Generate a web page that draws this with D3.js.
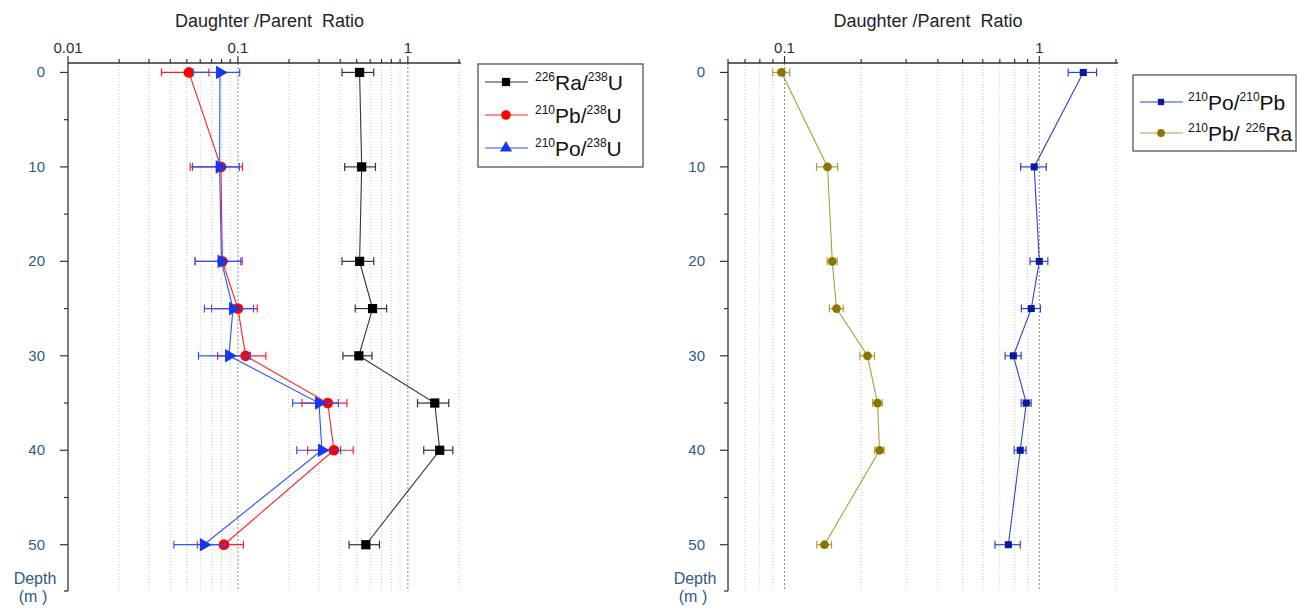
<!DOCTYPE html>
<html>
<head>
<meta charset="utf-8">
<script src="https://cdn.jsdelivr.net/npm/d3@7"></script>
<style>
  body { margin: 0; background: #fff; }
  svg { font-family: "Liberation Sans", Arial, sans-serif; }
</style>
</head>
<body>
<svg id="chart" width="1298" height="609"></svg>
<script>
// depths (m)
const depths = [0, 10, 20, 25, 30, 35, 40, 50]
const depthTicks = [0, 10, 20, 30, 40, 50]
const depthMinor = [5, 15, 25, 35, 45]

// left panel: ratio to 238U
const raU    = [0.52, 0.535, 0.52, 0.62, 0.515, 1.44, 1.54, 0.566]
const raUErr = [0.11, 0.11, 0.11, 0.13, 0.1, 0.3, 0.3, 0.115]
const pbU    = [0.0515, 0.0794, 0.081, 0.1, 0.111, 0.338, 0.367, 0.0827]
const pbUErr = [0.016, 0.027, 0.025, 0.03, 0.035, 0.1, 0.11, 0.025]
const poU    = [0.0784, 0.078, 0.08, 0.0935, 0.0886, 0.30, 0.312, 0.063]
const poUErr = [0.024, 0.024, 0.024, 0.03, 0.03, 0.09, 0.09, 0.021]

// right panel
const poPb    = [1.488, 0.955, 1.0, 0.93, 0.791, 0.889, 0.842, 0.756]
const poPbErr = [0.19, 0.11, 0.08, 0.08, 0.057, 0.04, 0.045, 0.086]
const pbRa    = [0.0973, 0.1475, 0.154, 0.16, 0.2116, 0.2317, 0.236, 0.1435]
const pbRaErr = [0.0075, 0.014, 0.007, 0.01, 0.014, 0.01, 0.01, 0.0095]

const leftTickLabels = [0.01, 0.1, 1]
const rightTickLabels = [0.1, 1]

const svg = d3.select('#chart')
const yTop = 63, yBot = 591
const y = d3.scaleLinear().domain([-1, 54.9]).range([yTop, yBot])

const labelColor = '#2f5b85'
const tickColor = '#1c2c4c'

// minor log positions inside a domain
const logTicks = (lo, hi) => {
  let out = []
  for (let e = -3; e <= 1; e++) {
    for (let m = 1; m <= 9; m++) {
      const v = m * Math.pow(10, e)
      if (v >= lo * 0.999 && v <= hi * 1.001) out.push(v)
    }
  }
  return out
}

const drawPanel = (x0, x1, domain, majors, series, legend) => {
  const x = d3.scaleLog().domain(domain).range([x0, x1])
  const g = svg.append('g')
  const ticks = logTicks(domain[0], domain[1])
  const isDecade = v => Math.abs(Math.log10(v) - Math.round(Math.log10(v))) < 1e-6

  // dotted grid
  g.append('g').selectAll('line').data(ticks.filter(v => x(v) > x0 + 1)).enter().append('line')
    .attr('x1', d => x(d)).attr('x2', d => x(d))
    .attr('y1', yTop).attr('y2', yBot)
    .attr('stroke', d => isDecade(d) ? '#8a8a8a' : '#c4c4c4')
    .attr('stroke-width', 1)
    .attr('stroke-dasharray', d => isDecade(d) ? '2,2' : '1,2')

  // top axis
  g.append('line').attr('x1', x0).attr('x2', x1 + 2).attr('y1', yTop).attr('y2', yTop)
    .attr('stroke', '#333').attr('stroke-width', 1.3)
  g.append('g').selectAll('line').data(ticks).enter().append('line')
    .attr('x1', d => x(d)).attr('x2', d => x(d))
    .attr('y1', yTop).attr('y2', d => isDecade(d) ? yTop - 7 : yTop - 4)
    .attr('stroke', '#333').attr('stroke-width', 1.2)
  g.append('g').selectAll('text').data(majors).enter().append('text')
    .attr('x', d => x(d)).attr('y', 53)
    .attr('text-anchor', 'middle').attr('font-size', 15).attr('fill', tickColor)
    .text(d => d)
  g.append('text').attr('x', (x0 + x1) / 2 + 6).attr('y', 27)
    .attr('text-anchor', 'middle').attr('font-size', 18).attr('fill', '#1e1e2e')
    .attr('xml:space', 'preserve')
    .text('Daughter /Parent  Ratio')

  // left depth axis
  g.append('line').attr('x1', x0).attr('x2', x0).attr('y1', yTop).attr('y2', yBot)
    .attr('stroke', '#333').attr('stroke-width', 1.3)
  g.append('line').attr('x1', x0 - 4).attr('x2', x0).attr('y1', yBot).attr('y2', yBot)
    .attr('stroke', '#333').attr('stroke-width', 1.3)
  g.append('g').selectAll('line').data(depthTicks).enter().append('line')
    .attr('x1', x0 - 8).attr('x2', x0).attr('y1', d => y(d)).attr('y2', d => y(d))
    .attr('stroke', '#333').attr('stroke-width', 1.2)
  g.append('g').selectAll('line').data(depthMinor).enter().append('line')
    .attr('x1', x0 - 4).attr('x2', x0).attr('y1', d => y(d)).attr('y2', d => y(d))
    .attr('stroke', '#333').attr('stroke-width', 1.2)
  g.append('g').selectAll('text').data(depthTicks).enter().append('text')
    .attr('x', x0 - 23).attr('y', d => y(d) + 5)
    .attr('text-anchor', 'end').attr('font-size', 15).attr('fill', labelColor)
    .text(d => d)
  g.append('text').attr('x', x0 - 33).attr('y', 584)
    .attr('text-anchor', 'middle').attr('font-size', 16).attr('fill', labelColor).text('Depth')
  g.append('text').attr('x', x0 - 35).attr('y', 602)
    .attr('text-anchor', 'middle').attr('font-size', 16).attr('fill', labelColor).text('(m )')

  const line = d3.line().x(d => x(d.v)).y(d => y(d.depth))

  series.forEach(s => {
    const pts = s.values.map((v, i) => ({ v, e: s.errors[i], depth: depths[i] }))
    const sg = g.append('g')
    sg.append('path').datum(pts).attr('d', line)
      .attr('fill', 'none').attr('stroke', s.line).attr('stroke-width', 1.1)
    // error bars
    const eb = sg.selectAll('g.err').data(pts).enter().append('g').attr('class', 'err')
    eb.append('line')
      .attr('x1', d => x(d.v - d.e)).attr('x2', d => x(d.v + d.e))
      .attr('y1', d => y(d.depth)).attr('y2', d => y(d.depth))
      .attr('stroke', s.line).attr('stroke-width', 1.2)
    ;[-1, 1].forEach(sign => {
      eb.append('line')
        .attr('x1', d => x(d.v + sign * d.e)).attr('x2', d => x(d.v + sign * d.e))
        .attr('y1', d => y(d.depth) - s.cap).attr('y2', d => y(d.depth) + s.cap)
        .attr('stroke', s.line).attr('stroke-width', 1.2)
    })
    const sym = d3.symbol().type(s.symbol).size(s.size)
    sg.selectAll('path.mk').data(pts).enter().append('path').attr('class', 'mk')
      .attr('d', sym)
      .attr('transform', d => `translate(${x(d.v)},${y(d.depth)})rotate(${s.rotate || 0})`)
      .attr('fill', s.marker)
  })

  // legend
  const lg = svg.append('g')
  lg.append('rect').attr('x', legend.x).attr('y', legend.y)
    .attr('width', legend.w).attr('height', legend.h)
    .attr('fill', '#fff').attr('stroke', '#555').attr('stroke-width', 1.3)
  series.forEach((s, i) => {
    const ly = legend.y + legend.first + i * legend.step
    lg.append('line').attr('x1', legend.x + 7).attr('x2', legend.x + 50)
      .attr('y1', ly).attr('y2', ly).attr('stroke', s.line).attr('stroke-width', 1.1)
    lg.append('path').attr('d', d3.symbol().type(s.symbol).size(s.size * 0.8))
      .attr('transform', `translate(${legend.x + 28},${ly})`)
      .attr('fill', s.marker)
    const t = lg.append('text').attr('x', legend.x + legend.textX).attr('y', ly + 8)
      .attr('font-size', 21).attr('fill', '#111')
    s.label.forEach(part => {
      if (part.sup) t.append('tspan').attr('font-size', 12).attr('dy', -9).text(part.sup)
      t.append('tspan').attr('dy', part.sup ? 9 : 0).text(part.text)
    })
  })
}

drawPanel(68, 459, [0.01, 2], leftTickLabels, [
  { values: raU, errors: raUErr, line: '#333', marker: '#000', symbol: d3.symbolSquare, size: 85, cap: 4,
    label: [{ sup: '226', text: 'Ra/' }, { sup: '238', text: 'U' }] },
  { values: pbU, errors: pbUErr, line: '#ff2020', marker: '#ff0000', symbol: d3.symbolCircle, size: 90, cap: 4,
    label: [{ sup: '210', text: 'Pb/' }, { sup: '238', text: 'U' }] },
  { values: poU, errors: poUErr, line: '#2b55ff', marker: '#1438ee', symbol: d3.symbolTriangle, size: 80, cap: 4, rotate: 90,
    label: [{ sup: '210', text: 'Po/' }, { sup: '238', text: 'U' }] }
], { x: 478, y: 64, w: 165, h: 103, first: 18, step: 33, textX: 57 })

drawPanel(728, 1116, [0.06, 2], rightTickLabels, [
  { values: poPb, errors: poPbErr, line: '#2d46c8', marker: '#0a1a9a', symbol: d3.symbolSquare, size: 50, cap: 4,
    label: [{ sup: '210', text: 'Po/' }, { sup: '210', text: 'Pb' }] },
  { values: pbRa, errors: pbRaErr, line: '#b29c36', marker: '#8c7400', symbol: d3.symbolCircle, size: 60, cap: 4,
    label: [{ sup: '210', text: 'Pb/ ' }, { sup: '226', text: 'Ra' }] }
], { x: 1133, y: 75, w: 163, h: 76, first: 27, step: 31, textX: 55 })
</script>
</body>
</html>
